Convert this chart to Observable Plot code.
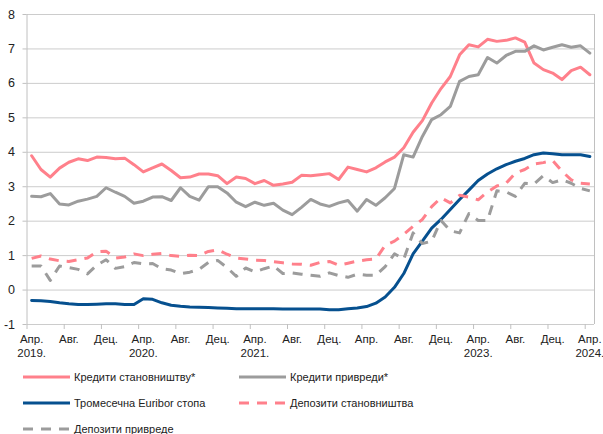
<!DOCTYPE html>
<html><head><meta charset="utf-8">
<script src="https://cdn.jsdelivr.net/npm/d3@7"></script>
<script src="https://cdn.jsdelivr.net/npm/@observablehq/plot@0.6"></script>
<style>
body{margin:0;background:#fff;font-family:"Liberation Sans",Arial,sans-serif;}
#wrap{position:relative;width:603px;height:434px;overflow:hidden;background:#fff;}
#chart{position:absolute;left:0;top:0;}
.item{position:absolute;display:flex;align-items:center;font-size:11px;color:#222;white-space:nowrap;height:16px;}
.item svg{margin-right:4px;display:block;}
</style></head><body><div id="wrap"><div id="chart"></div><div id="legend"></div></div>
<script>
// Month index 0 = Apr 2019 ... 60 = Apr 2024
const tickIdx = [0, 4, 8, 12, 16, 20, 24, 28, 32, 36, 40, 44, 48, 52, 56, 60];
const tickText = ["Апр.\n2019.", "Авг.", "Дец.", "Апр.\n2020.", "Авг.", "Дец.", "Апр.\n2021.", "Авг.", "Дец.", "Апр.", "Авг.", "Дец.", "Апр.\n2023.", "Авг.", "Дец.", "Апр.\n2024."];
const yTicks = [-1, 0, 1, 2, 3, 4, 5, 6, 7, 8];

const seriesNames = ["Кредити становништву*", "Кредити привреди*", "Тромесечна Euribor стопа", "Депозити становништва", "Депозити привреде"];

const hhLoans = [3.90, 3.50, 3.28, 3.54, 3.71, 3.81, 3.76, 3.86, 3.85, 3.81, 3.83, 3.64, 3.43, 3.55, 3.66, 3.47, 3.26, 3.28, 3.37, 3.37, 3.32, 3.09, 3.28, 3.24, 3.09, 3.18, 3.04, 3.08, 3.13, 3.33, 3.32, 3.35, 3.38, 3.21, 3.57, 3.50, 3.43, 3.55, 3.72, 3.86, 4.13, 4.58, 4.92, 5.43, 5.85, 6.20, 6.83, 7.12, 7.06, 7.28, 7.22, 7.25, 7.32, 7.20, 6.59, 6.40, 6.30, 6.11, 6.37, 6.47, 6.25];
const bizLoans = [2.72, 2.71, 2.80, 2.50, 2.47, 2.58, 2.64, 2.72, 2.97, 2.84, 2.72, 2.52, 2.58, 2.70, 2.71, 2.60, 2.97, 2.72, 2.61, 3.00, 3.00, 2.82, 2.55, 2.42, 2.55, 2.46, 2.52, 2.32, 2.19, 2.40, 2.63, 2.50, 2.43, 2.53, 2.60, 2.29, 2.63, 2.46, 2.68, 2.95, 3.93, 3.86, 4.46, 4.95, 5.09, 5.33, 6.06, 6.20, 6.25, 6.75, 6.59, 6.81, 6.93, 6.93, 7.09, 6.97, 7.05, 7.12, 7.05, 7.09, 6.88];
const euribor = [-0.30, -0.31, -0.33, -0.37, -0.40, -0.42, -0.42, -0.41, -0.40, -0.40, -0.42, -0.42, -0.25, -0.27, -0.37, -0.44, -0.47, -0.49, -0.50, -0.51, -0.52, -0.53, -0.54, -0.54, -0.54, -0.54, -0.54, -0.55, -0.55, -0.55, -0.55, -0.55, -0.57, -0.57, -0.54, -0.52, -0.48, -0.38, -0.20, 0.08, 0.48, 1.05, 1.42, 1.80, 2.05, 2.34, 2.63, 2.90, 3.18, 3.37, 3.52, 3.64, 3.74, 3.82, 3.93, 3.98, 3.96, 3.93, 3.93, 3.93, 3.88];
const hhDep = [0.92, 0.99, 0.90, 0.85, 0.83, 0.88, 0.93, 1.11, 1.13, 0.93, 0.96, 1.05, 1.00, 1.04, 1.06, 1.00, 0.98, 1.01, 1.00, 1.12, 1.17, 1.04, 0.93, 0.90, 0.87, 0.86, 0.82, 0.79, 0.76, 0.75, 0.72, 0.80, 0.83, 0.72, 0.78, 0.84, 0.88, 0.90, 1.30, 1.42, 1.62, 1.85, 2.05, 2.42, 2.68, 2.53, 2.75, 2.70, 2.62, 2.85, 3.02, 3.10, 3.40, 3.50, 3.66, 3.70, 3.76, 3.45, 3.20, 3.10, 3.08];
const bizDep = [0.70, 0.70, 0.28, 0.70, 0.65, 0.60, 0.47, 0.72, 0.88, 0.63, 0.68, 0.80, 0.76, 0.77, 0.62, 0.58, 0.48, 0.52, 0.60, 0.80, 0.86, 0.65, 0.40, 0.64, 0.53, 0.62, 0.70, 0.48, 0.50, 0.46, 0.43, 0.40, 0.50, 0.42, 0.37, 0.46, 0.43, 0.43, 0.68, 1.05, 0.90, 1.66, 1.35, 1.42, 2.02, 1.72, 1.66, 2.22, 2.02, 2.02, 2.88, 2.85, 2.72, 3.10, 3.08, 3.32, 3.12, 3.20, 3.10, 2.95, 2.88];

const pink = "#ff808b", gray = "#9c9c9c", blue = "#06508f";
const styles = [
  {data: hhLoans, stroke: pink, dash: null},
  {data: bizLoans, stroke: gray, dash: null},
  {data: euribor, stroke: blue, dash: null},
  {data: hhDep, stroke: pink, dash: "10,8"},
  {data: bizDep, stroke: gray, dash: "10,8"}
];

const bounds = tickIdx.map(i => i - 0.5);
const axisColor = "#c0c0c0";

const lineMarks = styles.map(s => Plot.line(s.data, {
  x: (d, i) => i, y: d => d, stroke: s.stroke, strokeWidth: 3,
  strokeDasharray: s.dash ?? undefined, strokeLinejoin: "round",
  strokeLinecap: s.dash ? "butt" : "round"
}));

const chart = Plot.plot({
  width: 603, height: 362,
  marginLeft: 26.5, marginRight: 9, marginTop: 14, marginBottom: 38,
  x: {domain: [-0.5, 60.5], axis: null},
  y: {domain: [-1, 8], axis: null},
  style: {fontFamily: "'Liberation Sans', Arial, sans-serif", background: "#fff", color: "#222"},
  marks: [
    Plot.ruleY(yTicks, {stroke: "#cccccc", strokeWidth: 1}),
    Plot.ruleX([-0.5, 60.5], {stroke: axisColor, strokeWidth: 1}),
    Plot.axisY({ticks: yTicks, tickSize: 4, tickPadding: 8, tickFormat: d => String(d), stroke: axisColor, fill: "#222", fontSize: 12.5}),
    Plot.axisX({ticks: bounds, tickSize: 5, tickFormat: () => "", stroke: axisColor}),
    Plot.text(tickIdx, {x: d => d, y: -1, text: (d, i) => tickText[i], dy: 8, lineAnchor: "top", lineHeight: 1.25, fontSize: 11.5, fill: "#222"}),
    ...lineMarks
  ]
});
document.getElementById("chart").appendChild(chart);

// Legend (HTML, below the SVG)
const legendPos = [
  {left: 23, top: 377}, {left: 239, top: 377},
  {left: 23, top: 403}, {left: 239, top: 403},
  {left: 23, top: 429}
];
const legend = document.getElementById("legend");
seriesNames.forEach((name, k) => {
  const s = styles[k], p = legendPos[k];
  const div = document.createElement("div");
  div.className = "item";
  div.style.left = p.left + "px";
  div.style.top = (p.top - 8) + "px";
  div.innerHTML = `<svg width="47" height="6"><line x1="0" y1="3" x2="47" y2="3" stroke="${s.stroke}" stroke-width="3" ${s.dash ? `stroke-dasharray="${s.dash}"` : ""}/></svg><span>${name}</span>`;
  legend.appendChild(div);
});
</script></body></html>
